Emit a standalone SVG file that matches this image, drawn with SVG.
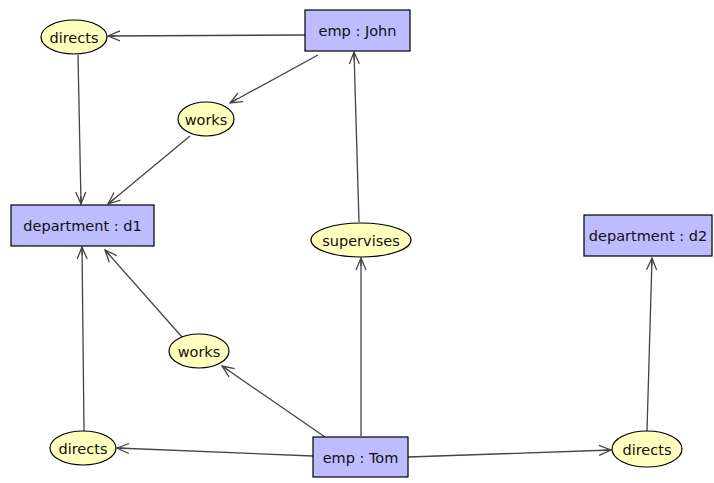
<svg xmlns="http://www.w3.org/2000/svg" width="714" height="483" viewBox="0 0 714 483">
<style>
.box{fill:#bcbcff;stroke:#000;stroke-width:1.2}
.ell{fill:#ffffbe;stroke:#000;stroke-width:1.2}
.t{font-family:"DejaVu Sans",Verdana,sans-serif;font-size:14.5px;fill:#111;text-anchor:middle;dominant-baseline:central}
.e{stroke:#444;stroke-width:1.3;fill:none;marker-end:url(#arr)}
</style>
<defs>
<marker id="arr" viewBox="0 0 14 12" refX="13" refY="6" markerWidth="14" markerHeight="12" markerUnits="userSpaceOnUse" orient="auto">
<path d="M1,1 L13,6 L1,11 M5,6 L13,6" fill="none" stroke="#444" stroke-width="1.3"/>
</marker>
</defs>
<rect width="714" height="483" fill="#fff"/>
<g id="connectors">
<line class="e" x1="305" y1="35" x2="108" y2="36"/>
<line class="e" x1="318" y1="55" x2="230" y2="103"/>
<line class="e" x1="78" y1="55" x2="81" y2="204"/>
<line class="e" x1="190" y1="136" x2="108" y2="204"/>
<line class="e" x1="359" y1="222" x2="354" y2="52"/>
<line class="e" x1="361" y1="436" x2="361" y2="258"/>
<line class="e" x1="182" y1="337" x2="105" y2="250"/>
<line class="e" x1="325" y1="437" x2="222" y2="366"/>
<line class="e" x1="84" y1="431" x2="82" y2="247"/>
<line class="e" x1="313" y1="456" x2="117" y2="448"/>
<line class="e" x1="408" y1="457" x2="611" y2="450"/>
<line class="e" x1="647" y1="431" x2="652" y2="258"/>
</g>
<g id="empJohn"><rect class="box" x="305" y="10" width="105" height="41"/><text class="t" x="357.5" y="31">emp : John</text></g>
<g id="directs1"><ellipse class="ell" cx="74" cy="37" rx="33" ry="17"/><text class="t" x="74" y="38">directs</text></g>
<g id="works1"><ellipse class="ell" cx="206" cy="119" rx="28" ry="17"/><text class="t" x="206" y="120">works</text></g>
<g id="dept1"><rect class="box" x="11" y="205" width="143" height="41"/><text class="t" x="82.5" y="226">department : d1</text></g>
<g id="supervises"><ellipse class="ell" cx="361" cy="240" rx="50" ry="17"/><text class="t" x="361" y="241">supervises</text></g>
<g id="dept2"><rect class="box" x="584" y="215" width="128" height="41"/><text class="t" x="648" y="236">department : d2</text></g>
<g id="works2"><ellipse class="ell" cx="199" cy="351" rx="30" ry="17"/><text class="t" x="199" y="352">works</text></g>
<g id="directs2"><ellipse class="ell" cx="83" cy="448" rx="33" ry="17"/><text class="t" x="83" y="449">directs</text></g>
<g id="empTom"><rect class="box" x="313" y="437" width="95" height="40"/><text class="t" x="360.5" y="458">emp : Tom</text></g>
<g id="directs3"><ellipse class="ell" cx="647" cy="449" rx="35" ry="18"/><text class="t" x="647" y="450">directs</text></g>
</svg>
